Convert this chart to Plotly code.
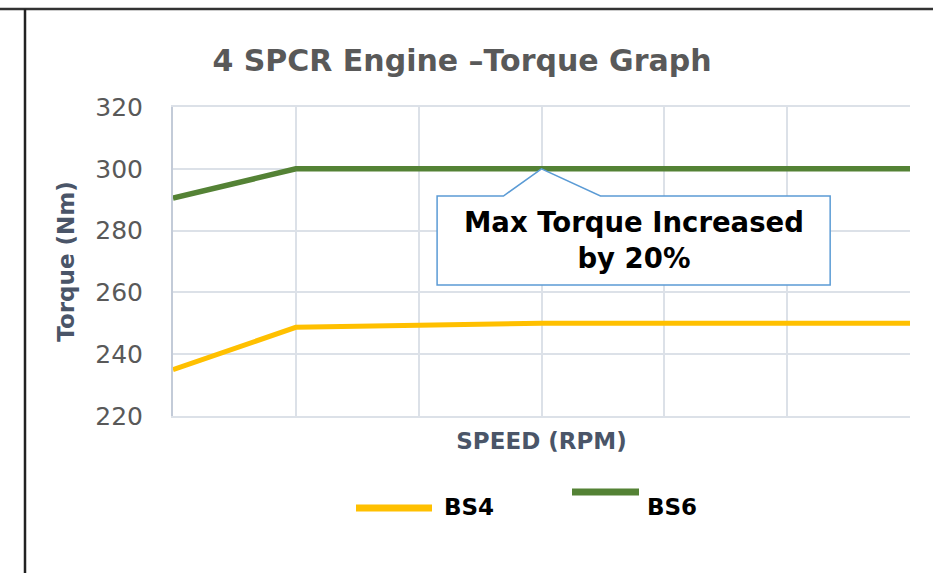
import plotly.graph_objects as go

# ---- data ----
speed_points = [0, 1, 2, 3, 4, 5, 6]
bs4_torque = [235, 248.7, 249.4, 250, 250, 250, 250]
bs6_torque = [290.5, 300, 300, 300, 300, 300, 300]
series_names = ["BS4", "BS6"]
y_ticks = [220, 240, 260, 280, 300, 320]

W, H = 933, 573
L, R, T, B = 173, 23, 107, 157
PW, PH = W - L - R, H - T - B

def px(x):
    return (x - L) / PW

def py(y):
    return (H - B - y) / PH

FONT = "DejaVu Sans"
C4, C6 = "#FFC000", "#548235"

fig = go.Figure()
fig.add_trace(go.Scatter(x=speed_points, y=bs4_torque, mode="lines", name=series_names[0],
                         line=dict(color=C4, width=5), showlegend=False))
fig.add_trace(go.Scatter(x=speed_points, y=bs6_torque, mode="lines", name=series_names[1],
                         line=dict(color=C6, width=5.5), showlegend=False))

grid = "#DCE1E8"
fig.update_xaxes(range=[speed_points[0], speed_points[-1]], tickvals=speed_points,
                 showticklabels=False, showgrid=True, gridcolor=grid, gridwidth=1.5,
                 zeroline=False, showline=True, linecolor=grid, linewidth=2, mirror=True,
                 title=dict(text="<b>SPEED (RPM)</b>", font=dict(family=FONT, size=23, color="#4A5568"),
                            standoff=16), automargin=False)
fig.update_yaxes(range=[220, 320], tickvals=y_ticks, showgrid=True, gridcolor=grid, gridwidth=1.5,
                 zeroline=False, showline=True, linecolor="#C3CBD8", linewidth=2,
                 ticks="", ticklabelstandoff=23,
                 tickfont=dict(family=FONT, size=25, color="#595959"),
                 title=dict(text="<b>Torque (Nm)</b>", font=dict(family=FONT, size=23, color="#4A5568"),
                            standoff=14), automargin=False)

# callout box with pointer to the max torque
apex_x, apex_y = speed_points[3], bs6_torque[3]
bx0, bx1 = 2.15, 5.35
by0, by1 = 262.4, 291.2
wl, wr = 2.69, 3.48
path = (f"M {bx0},{by1} L {wl},{by1} L {apex_x},{apex_y} L {wr},{by1} L {bx1},{by1} "
        f"L {bx1},{by0} L {bx0},{by0} Z")
fig.add_shape(type="path", path=path, xref="x", yref="y", fillcolor="white",
              line=dict(color="#5B9BD5", width=1.5), layer="above")
fig.add_annotation(x=(bx0 + bx1) / 2, y=(by0 + by1) / 2, xref="x", yref="y",
                   text="<b>Max Torque Increased<br>by 20%</b>", showarrow=False,
                   font=dict(family=FONT, size=27.5, color="black"), align="center")

# outer chart border (top and left)
fig.add_shape(type="line", xref="paper", yref="paper", x0=px(0), x1=px(W), y0=py(9), y1=py(9),
              line=dict(color="#333333", width=2.5))
fig.add_shape(type="line", xref="paper", yref="paper", x0=px(25), x1=px(25), y0=py(9), y1=py(H),
              line=dict(color="#222222", width=2.5))

# custom legend
legend_items = [(series_names[0], C4, 356, 432, 508, 442),
                (series_names[1], C6, 572, 639, 492, 645)]
for name, col, x0, x1, yl, xt in legend_items:
    fig.add_shape(type="line", xref="paper", yref="paper", x0=px(x0), x1=px(x1), y0=py(yl), y1=py(yl),
                  line=dict(color=col, width=7))
    fig.add_annotation(x=px(xt), y=py(507), xref="paper", yref="paper", text=f"<b>{name}</b>",
                       showarrow=False, xanchor="left", yanchor="middle",
                       font=dict(family=FONT, size=23, color="black"))

fig.update_layout(
    width=W, height=H, margin=dict(l=L, r=R, t=T, b=B),
    paper_bgcolor="white", plot_bgcolor="white",
    title=dict(text="<b>4 SPCR Engine –Torque Graph</b>", x=462 / W, xanchor="center",
               y=1 - 60 / H, yanchor="middle", font=dict(family=FONT, size=30, color="#595959")),
)

fig.write_html("out.html", config={"displayModeBar": False},
               post_script="document.body.style.margin='0';document.body.style.overflow='hidden';")
